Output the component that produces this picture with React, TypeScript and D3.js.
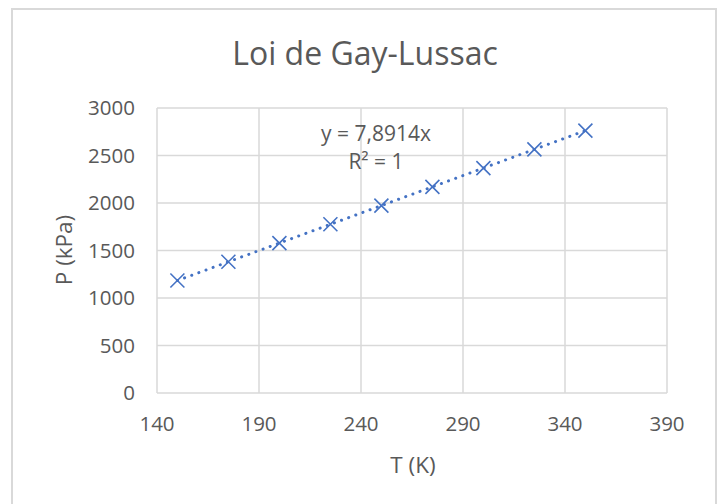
import React, { useEffect, useRef } from 'react';
import * as d3 from 'd3';

// temperatures (K) and pressures (kPa)
const temperatures = [150, 175, 200, 225, 250, 275, 300, 325, 350];
const pressures = [1184, 1381, 1578, 1776, 1973, 2170, 2367, 2565, 2762];
const xTicks = [140, 190, 240, 290, 340, 390];
const yTicks = [0, 500, 1000, 1500, 2000, 2500, 3000];
const slope = 7.8914;

const App = () => {
    const ref = useRef<SVGSVGElement>(null);

    useEffect(() => {
        const width = 723;
        const height = 504;
        const font = '"Open Sans", sans-serif';
        const grey = '#595959';
        const blue = '#4472C4';

        const svg = d3.select(ref.current);
        svg.selectAll('*').remove();

        svg.append('rect').attr('width', width).attr('height', height).attr('fill', '#fff');

        // outer chart border
        svg.append('rect')
            .attr('x', 12).attr('y', 9)
            .attr('width', 704).attr('height', 520)
            .attr('fill', 'none')
            .attr('stroke', '#d9d9d9')
            .attr('stroke-width', 2);

        const x = d3.scaleLinear().domain([140, 390]).range([157, 667]);
        const y = d3.scaleLinear().domain([0, 3000]).range([393, 108]);

        // grid
        svg.append('g').selectAll('line').data(yTicks).enter().append('line')
            .attr('x1', x(140)).attr('x2', x(390))
            .attr('y1', d => y(d)).attr('y2', d => y(d))
            .attr('stroke', '#d9d9d9').attr('stroke-width', 1.5);
        svg.append('g').selectAll('line').data(xTicks).enter().append('line')
            .attr('x1', d => x(d)).attr('x2', d => x(d))
            .attr('y1', y(0)).attr('y2', y(3000))
            .attr('stroke', '#d9d9d9').attr('stroke-width', 1.5);

        // tick labels
        svg.append('g').selectAll('text').data(yTicks).enter().append('text')
            .attr('x', 135).attr('y', d => y(d))
            .attr('dy', '0.36em')
            .attr('text-anchor', 'end')
            .attr('font-family', font).attr('font-size', 20.5)
            .attr('fill', grey)
            .text(d => d);
        svg.append('g').selectAll('text').data(xTicks).enter().append('text')
            .attr('x', d => x(d)).attr('y', 431)
            .attr('text-anchor', 'middle')
            .attr('font-family', font).attr('font-size', 20.5)
            .attr('fill', grey)
            .text(d => d);

        // titles
        svg.append('text')
            .attr('x', 365).attr('y', 65)
            .attr('text-anchor', 'middle')
            .attr('font-family', font).attr('font-size', 32)
            .attr('fill', grey)
            .text('Loi de Gay-Lussac');
        svg.append('text')
            .attr('x', 413).attr('y', 473)
            .attr('text-anchor', 'middle')
            .attr('font-family', font).attr('font-size', 22.5)
            .attr('fill', grey)
            .text('T (K)');
        svg.append('text')
            .attr('transform', 'translate(72,250) rotate(-90)')
            .attr('text-anchor', 'middle')
            .attr('font-family', font).attr('font-size', 22.5)
            .attr('fill', grey)
            .text('P (kPa)');

        // linear trendline through origin
        const tMin = d3.min(temperatures) as number;
        const tMax = d3.max(temperatures) as number;
        svg.append('line')
            .attr('x1', x(tMin)).attr('y1', y(slope * tMin))
            .attr('x2', x(tMax)).attr('y2', y(slope * tMax))
            .attr('stroke', blue)
            .attr('stroke-width', 3)
            .attr('stroke-linecap', 'round')
            .attr('stroke-dasharray', '0.1 7.5');

        // markers
        const s = 7;
        const data = temperatures.map((t, i) => ({ t, p: pressures[i] }));
        svg.append('g').selectAll('path').data(data).enter().append('path')
            .attr('transform', d => `translate(${x(d.t)},${y(d.p)})`)
            .attr('d', `M${-s},${-s}L${s},${s}M${-s},${s}L${s},${-s}`)
            .attr('stroke', blue)
            .attr('stroke-width', 1.6)
            .attr('fill', 'none');

        // equation label
        svg.append('text')
            .attr('x', 376).attr('y', 141)
            .attr('text-anchor', 'middle')
            .attr('font-family', font).attr('font-size', 21)
            .attr('fill', grey)
            .text('y = 7,8914x');
        svg.append('text')
            .attr('x', 376).attr('y', 169)
            .attr('text-anchor', 'middle')
            .attr('font-family', font).attr('font-size', 21)
            .attr('fill', grey)
            .text('R² = 1');
    }, []);

    return <svg ref={ref} width={723} height={504}
        style={{ position: 'absolute', left: 0, top: 0, display: 'block' }} />;
};

export default App;
